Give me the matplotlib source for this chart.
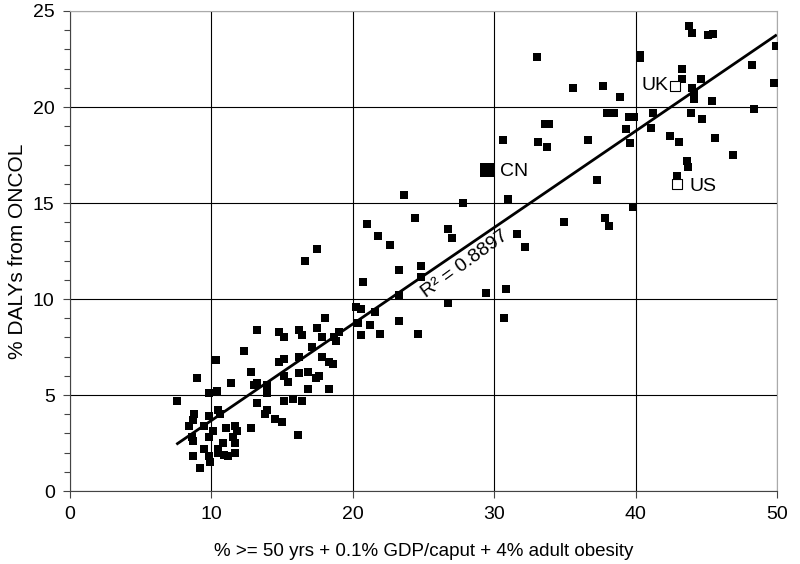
import matplotlib
matplotlib.use("Agg")
import matplotlib.pyplot as plt
import numpy as np

plt.rcParams["font.family"] = ["Liberation Sans", "DejaVu Sans"]

# composite risk index (x) vs % DALYs from ONCOL (y), one point per country
x_vals = [
    7.6, 8.4, 8.6, 8.7, 8.7, 8.8, 8.7, 9.0, 9.2, 9.5, 9.5, 9.8, 9.8, 9.8, 9.8,
    9.9, 10.1, 10.3, 10.4, 10.5, 10.6, 10.5, 10.5, 10.8, 10.9, 11.0, 11.2, 11.4,
    11.5, 11.7, 11.7, 11.7, 11.8, 12.3, 12.8, 12.8, 13.0, 13.2, 13.2, 13.2,
    13.9, 13.9, 13.8, 13.9, 14.5, 15.0, 14.8, 15.1, 15.1, 15.4, 15.1, 14.8,
    15.1, 15.8, 16.1, 16.2, 16.4, 16.2, 16.2, 16.4, 16.6, 16.8, 16.8, 17.1,
    17.4, 17.6, 17.5, 17.5, 17.8, 17.8, 18.0, 18.3, 18.6, 18.3, 18.7, 18.8,
    19.0,
    20.2, 20.6, 20.4, 20.6, 20.7, 21.0, 21.2, 21.6, 21.8, 21.9, 22.6, 23.3,
    23.3, 23.3, 23.6, 24.4, 24.6, 24.8, 24.8, 26.7, 27.0, 26.7, 27.8, 29.4,
    30.8, 30.7, 31.0, 31.6, 32.2, 30.6, 33.0, 33.1, 33.7, 33.6, 33.9, 34.9,
    35.6, 36.6, 37.3, 37.7, 37.8, 38.1, 38.0, 38.5, 38.9, 39.3, 39.5, 39.9,
    39.6, 39.8, 40.3, 40.3, 41.1, 41.2, 42.4, 42.9, 43.1, 43.3, 43.3, 43.6,
    43.7, 43.8, 44.0, 44.0, 44.1, 44.1, 43.9, 44.6, 44.7, 45.1, 45.5, 45.4,
    45.6, 46.9, 48.2, 48.4, 49.8, 49.9,
]
y_vals = [
    4.7, 3.4, 2.8, 2.6, 3.7, 4.0, 1.8, 5.9, 1.2, 3.4, 2.2, 3.9, 1.8, 2.8, 5.1,
    1.5, 3.1, 6.8, 5.2, 4.2, 4.0, 2.2, 2.0, 2.5, 1.9, 3.3, 1.8, 5.6,
    2.8, 3.4, 2.5, 2.0, 3.1, 7.3, 6.2, 3.3, 5.5, 5.6, 4.6, 8.4,
    5.1, 5.5, 4.0, 4.2, 3.75, 3.6, 6.7, 6.9, 6.0, 5.7, 4.7, 8.3,
    8.0, 4.8, 2.9, 8.4, 8.1, 7.0, 6.15, 4.7, 12.0, 6.2, 5.3, 7.5,
    5.9, 6.0, 8.5, 12.6, 7.0, 8.0, 9.0, 6.7, 6.6, 5.3, 8.0, 7.8,
    8.3,
    9.6, 9.5, 8.75, 8.1, 10.9, 13.9, 8.65, 9.3, 13.3, 8.2, 12.8, 11.5,
    10.2, 8.85, 15.4, 14.2, 8.2, 11.7, 11.15, 13.65, 13.2, 9.8, 15.0, 10.3,
    10.5, 9.0, 15.2, 13.4, 12.7, 18.3, 22.6, 18.2, 17.9, 19.1, 19.1, 14.0,
    21.0, 18.3, 16.2, 21.1, 14.2, 13.8, 19.7, 19.7, 20.5, 18.85, 19.5, 19.5,
    18.1, 14.8, 22.7, 22.55, 18.9, 19.7, 18.5, 16.4, 18.2, 22.0, 21.45, 17.2,
    16.9, 24.2, 23.85, 21.0, 20.7, 20.4, 19.7, 21.45, 19.4, 23.75, 23.8, 20.3,
    18.4, 17.5, 22.2, 19.9, 21.25, 23.2,
]

# labelled countries
cn_x, cn_y = 29.5, 16.7
uk_x, uk_y = 42.8, 21.1
us_x, us_y = 42.9, 16.0

all_x = np.array(x_vals + [cn_x, uk_x, us_x])
all_y = np.array(y_vals + [cn_y, uk_y, us_y])
slope, intercept = np.polyfit(all_x, all_y, 1)

fig = plt.figure(figsize=(8, 5.64), dpi=100)
ax = fig.add_axes([0.0875, 0.1294, 0.8838, 0.8511])

ax.scatter(x_vals, y_vals, marker="s", s=30, color="black", linewidths=0, zorder=3)
ax.scatter([cn_x], [cn_y], marker="s", s=90, color="black", linewidths=0, zorder=3)
ax.scatter([uk_x, us_x], [uk_y, us_y], marker="s", s=60, facecolor="white",
           edgecolor="black", linewidths=0.8, zorder=4)

line_x = np.array([all_x.min(), all_x.max()])
ax.plot(line_x, slope * line_x + intercept, color="black", linewidth=2, zorder=5)

ax.text(cn_x + 0.9, cn_y - 0.05, "CN", fontsize=14, va="center", ha="left")
ax.text(uk_x - 0.45, uk_y, "UK", fontsize=14, va="center", ha="right")
ax.text(us_x + 0.9, us_y - 0.15, "US", fontsize=14, va="center", ha="left")

ax.text(27.9, 11.8, "R² = 0.8897", fontsize=14, rotation=36,
        rotation_mode="anchor", ha="center", va="center")

ax.set_xlim(0, 50)
ax.set_ylim(0, 25)
ax.set_xticks(np.arange(0, 51, 10))
ax.set_yticks(np.arange(0, 26, 5))
ax.set_yticks(np.arange(0, 26, 1), minor=True)
ax.grid(True, which="major", color="black", linewidth=0.8)
ax.set_axisbelow(True)

ax.tick_params(axis="both", which="major", labelsize=14, length=5, width=0.8,
               color="#444444", pad=6)
ax.tick_params(axis="y", which="minor", length=4, width=0.8, color="#444444")

for side in ["top", "right"]:
    ax.spines[side].set_color("#aaaaaa")
for side in ["left", "bottom"]:
    ax.spines[side].set_color("#444444")

ax.set_xlabel("% >= 50 yrs + 0.1% GDP/caput + 4% adult obesity", fontsize=13.5, labelpad=14)
ax.set_ylabel("% DALYs from ONCOL", fontsize=15, labelpad=4)

fig.savefig("out.png", dpi=100)
